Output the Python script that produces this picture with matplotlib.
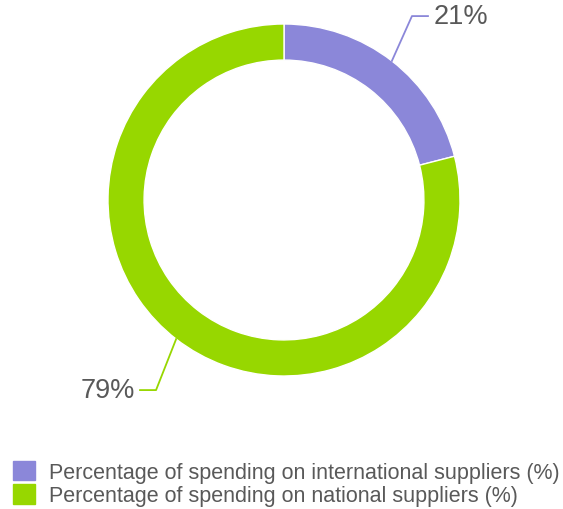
import matplotlib.pyplot as plt
import matplotlib.patches as mpatches
import numpy as np

plt.rcParams['font.family'] = ['Liberation Sans', 'DejaVu Sans']

labels = ['Percentage of spending on international suppliers (%)',
          'Percentage of spending on national suppliers (%)']
values = [21, 79]
colors = ['#8b87d9', '#97d700']
text_color = '#595959'

W, H = 563, 510
fig = plt.figure(figsize=(W / 100, H / 100), dpi=100)
cx, cy, r = 284, 201, 176
ax = fig.add_axes([(cx - r) / W, (H - cy - r) / H, 2 * r / W, 2 * r / H])

wedges, _ = ax.pie(values, colors=colors, startangle=90, counterclock=False,
                   radius=1, wedgeprops=dict(width=0.205, edgecolor='white', linewidth=1))
ax.set_xlim(-1, 1)
ax.set_ylim(-1, 1)
ax.axis('off')

# leader lines + labels
for w, v, col in zip(wedges, values, colors):
    ang = np.deg2rad((w.theta1 + w.theta2) / 2)
    x0, y0 = np.cos(ang), np.sin(ang)
    side = 1 if x0 > 0 else -1
    ey = 1.045 if y0 > 0 else -1.08
    ex = side * 0.727
    hx = side * 0.818
    ax.plot([x0, ex, hx], [y0, ey, ey], color=col, lw=1.3, clip_on=False)
    ax.text(hx + side * 0.03, ey, f'{v}%', color=text_color, fontsize=19.5,
            ha='left' if side > 0 else 'right', va='center', clip_on=False)

handles = [mpatches.Patch(color=c) for c in colors]
fig.legend(handles, labels, loc='upper left', bbox_to_anchor=(13 / W, 1 - 462 / H),
           frameon=False, fontsize=15.5, labelcolor=text_color,
           handlelength=1.0, handleheight=1.0, handletextpad=0.68,
           labelspacing=0.06, borderaxespad=0, borderpad=0)

fig.savefig('out.png', dpi=100)
